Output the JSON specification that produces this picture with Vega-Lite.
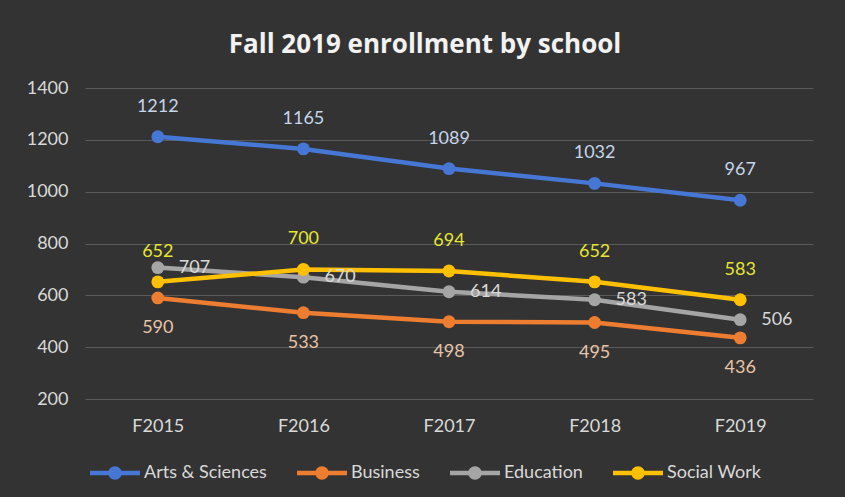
{
  "$schema": "https://vega.github.io/schema/vega-lite/v6.json",
  "width": 728,
  "height": 311,
  "autosize": {"type": "none"},
  "padding": {"left": 85, "top": 88, "right": 32, "bottom": 98},
  "background": "#333333",
  "title": {
    "text": "Fall 2019 enrollment by school",
    "font": "Open Sans",
    "fontSize": 26,
    "fontWeight": "bold",
    "color": "#f2f2f2",
    "anchor": "middle",
    "dx": -24,
    "offset": 21
  },
  "config": {
    "view": {"stroke": null},
    "font": "Lato"
  },
  "data": {
    "values": [
      {"term": "F2015", "school": "Arts & Sciences", "students": 1212},
      {"term": "F2016", "school": "Arts & Sciences", "students": 1165},
      {"term": "F2017", "school": "Arts & Sciences", "students": 1089},
      {"term": "F2018", "school": "Arts & Sciences", "students": 1032},
      {"term": "F2019", "school": "Arts & Sciences", "students": 967},
      {"term": "F2015", "school": "Business", "students": 590},
      {"term": "F2016", "school": "Business", "students": 533},
      {"term": "F2017", "school": "Business", "students": 498},
      {"term": "F2018", "school": "Business", "students": 495},
      {"term": "F2019", "school": "Business", "students": 436},
      {"term": "F2015", "school": "Education", "students": 707},
      {"term": "F2016", "school": "Education", "students": 670},
      {"term": "F2017", "school": "Education", "students": 614},
      {"term": "F2018", "school": "Education", "students": 583},
      {"term": "F2019", "school": "Education", "students": 506},
      {"term": "F2015", "school": "Social Work", "students": 652},
      {"term": "F2016", "school": "Social Work", "students": 700},
      {"term": "F2017", "school": "Social Work", "students": 694},
      {"term": "F2018", "school": "Social Work", "students": 652},
      {"term": "F2019", "school": "Social Work", "students": 583}
    ]
  },
  "encoding": {
    "x": {
      "field": "term",
      "type": "ordinal",
      "scale": {"type": "point", "padding": 0.5},
      "axis": {
        "title": null,
        "labelAngle": 0,
        "labelPadding": 18,
        "labelFontSize": 18,
        "labelColor": "#d9d9d9",
        "domain": false,
        "ticks": false,
        "grid": false
      }
    },
    "y": {
      "field": "students",
      "type": "quantitative",
      "scale": {"domain": [200, 1400], "nice": false, "zero": false},
      "axis": {
        "title": null,
        "format": "d",
        "values": [200, 400, 600, 800, 1000, 1200, 1400],
        "labelPadding": 17,
        "labelFontSize": 18,
        "labelColor": "#d9d9d9",
        "domain": false,
        "ticks": false,
        "gridColor": "#5a5a5a",
        "gridWidth": 1.2
      }
    }
  },
  "layer": [
    {
      "mark": {"type": "line", "strokeWidth": 4.5},
      "encoding": {
        "color": {
          "field": "school",
          "type": "nominal",
          "scale": {
            "domain": ["Arts & Sciences", "Business", "Education", "Social Work"],
            "range": ["#4677d4", "#ed7d31", "#a5a5a5", "#ffc000"]
          },
          "legend": {
            "title": null,
            "orient": "none",
            "direction": "horizontal",
            "legendX": 5,
            "legendY": 360,
            "padding": 0,
            "columnPadding": 30,
            "labelOffset": 4,
            "labelFontSize": 18,
            "labelColor": "#d9d9d9",
            "symbolType": "M-1,-0.09H1V0.09H-1Z M0.27,0A0.27,0.27,0,1,1,-0.27,0A0.27,0.27,0,1,1,0.27,0Z",
            "symbolSize": 2500,
            "symbolStrokeWidth": 0,
            "encode": {
              "symbols": {
                "update": {
                  "fill": {"scale": "color", "field": "value"},
                  "fillOpacity": {"value": 1},
                  "strokeWidth": {"value": 0}
                }
              }
            }
          }
        }
      }
    },
    {
      "mark": {"type": "point", "filled": true, "size": 165, "opacity": 1},
      "encoding": {
        "color": {"field": "school", "type": "nominal"}
      }
    },
    {
      "transform": [{"filter": "datum.school === 'Arts & Sciences'"}],
      "mark": {"type": "text", "dy": -30, "fontSize": 18, "color": "#c5d5ea"},
      "encoding": {"text": {"field": "students", "type": "quantitative"}}
    },
    {
      "transform": [{"filter": "datum.school === 'Business'"}],
      "mark": {"type": "text", "dy": 30, "fontSize": 18, "color": "#e8c4a8"},
      "encoding": {"text": {"field": "students", "type": "quantitative"}}
    },
    {
      "transform": [{"filter": "datum.school === 'Education'"}],
      "mark": {"type": "text", "dx": 21, "align": "left", "fontSize": 18, "color": "#d9d9d9"},
      "encoding": {"text": {"field": "students", "type": "quantitative"}}
    },
    {
      "transform": [{"filter": "datum.school === 'Social Work'"}],
      "mark": {"type": "text", "dy": -30, "fontSize": 18, "color": "#e6e632"},
      "encoding": {"text": {"field": "students", "type": "quantitative"}}
    }
  ]
}
